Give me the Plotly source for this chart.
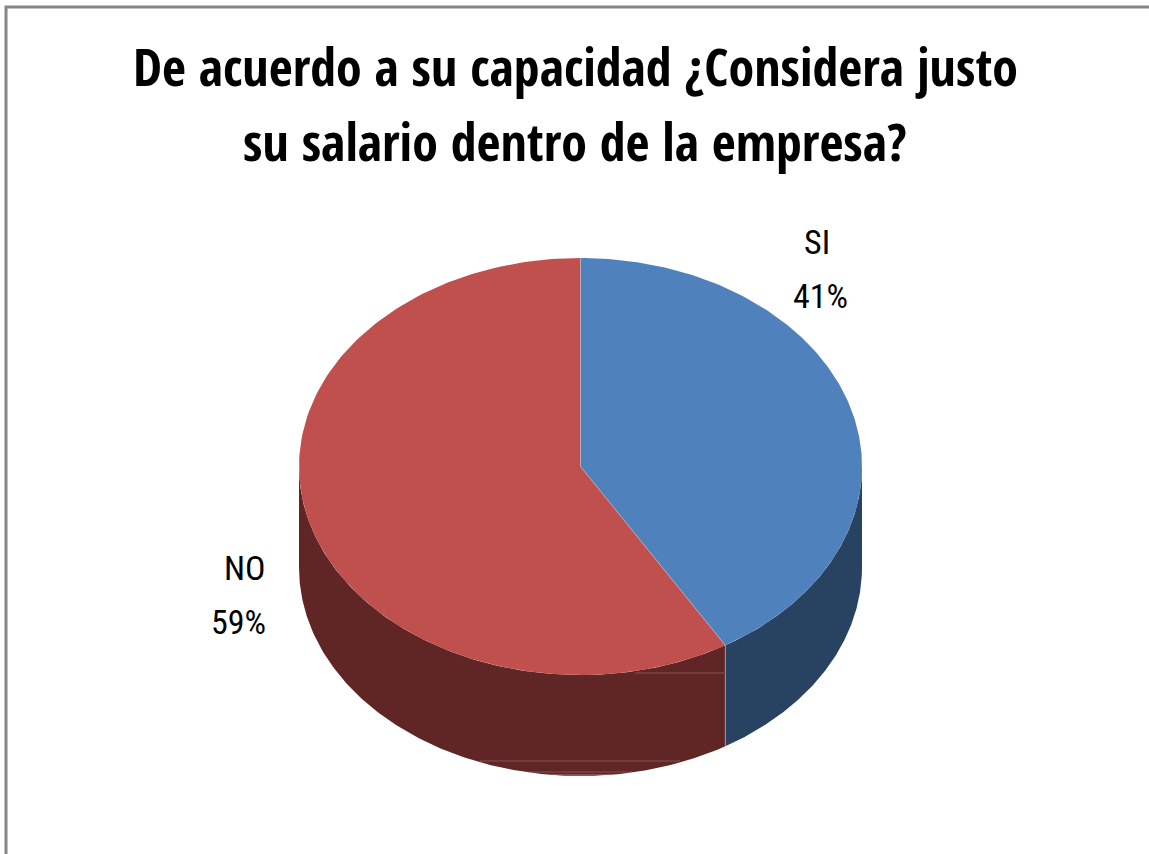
import numpy as np
import plotly.graph_objects as go

categories = ["SI", "NO"]
percentages = [41.4, 58.6]
title_lines = ["De acuerdo a su capacidad ¿Considera justo", "su salario dentro de la empresa?"]

top_colors = ["#4F81BD", "#C0504D"]
side_colors = ["#284262", "#602625"]
FONT = "Open Sans Condensed, Open Sans, sans-serif"
LABEL_FONT = "Roboto Condensed, Open Sans, sans-serif"

CX, CY, RX, RY, DEPTH = 580.5, 466.5, 281.5, 208.5, 101


def arc(start, end, dy=0):
    t = np.radians(np.linspace(start, end, 181))
    return CX + RX * np.sin(t), CY + dy - RY * np.cos(t)


fig = go.Figure()
total = sum(percentages)
edges = np.cumsum([0] + percentages) / total * 360.0

# side walls (only the front half of the ellipse, angles 90..270, is visible)
for i, name in enumerate(categories):
    a, b = max(edges[i], 90), min(edges[i + 1], 270)
    x1, y1 = arc(a, b)
    x2, y2 = arc(b, a, DEPTH)
    fig.add_trace(go.Scatter(x=np.r_[x1, x2], y=np.r_[y1, y2], fill="toself", mode="lines",
                             line=dict(width=0), fillcolor=side_colors[i], name=name + " lateral"))

# top faces
for i, name in enumerate(categories):
    x1, y1 = arc(edges[i], edges[i + 1])
    fig.add_trace(go.Scatter(x=np.r_[CX, x1], y=np.r_[CY, y1], fill="toself", mode="lines",
                             line=dict(width=0), fillcolor=top_colors[i], name=name))

# thin seams between the slices
for e in edges[:-1]:
    x1, y1 = arc(e, e)
    sx = [CX, x1[0]] + ([x1[0], x1[0]] if 90 < e < 270 else [])
    sy = [CY, y1[0]] + ([y1[0], y1[0] + DEPTH] if 90 < e < 270 else [])
    fig.add_trace(go.Scatter(x=sx, y=sy, mode="lines", line=dict(width=1, color="rgba(190,190,200,0.6)")))

label_style = dict(showarrow=False, font=dict(family=LABEL_FONT, size=34, color="#000000"), yanchor="middle")
positions = {"SI": (817, 242, 820, 296, "center"), "NO": (268, 568, 268, 622, "right")}
for name, pct in zip(categories, percentages):
    x1, y1, x2, y2, anchor = positions[name]
    fig.add_annotation(x=x1, y=y1, text=name, xanchor=anchor, **label_style)
    fig.add_annotation(x=x2, y=y2, text=f"{round(pct)}%", xanchor=anchor, **label_style)

for line, ty in zip(title_lines, [65, 140]):
    fig.add_annotation(x=575, y=ty, text="<b>" + line + "</b>", showarrow=False, xanchor="center", yanchor="middle",
                       font=dict(family=FONT, size=52, color="#000000"))

faint = dict(type="line", line=dict(color="rgba(170,120,120,0.55)", width=1))
fig.update_layout(
    width=1149, height=854, margin=dict(l=0, r=0, t=0, b=0),
    paper_bgcolor="#FFFFFF", plot_bgcolor="#FFFFFF", showlegend=False, hovermode=False,
    xaxis=dict(range=[0, 1149], visible=False, fixedrange=True),
    yaxis=dict(range=[854, 0], visible=False, fixedrange=True),
    shapes=[dict(type="path", path="M 6 854 L 6 7 L 1149 7", line=dict(color="#868686", width=3)),
            dict(x0=635, x1=724, y0=673, y1=673, **faint),
            dict(x0=480, x1=680, y0=761, y1=761, **faint),
            dict(x0=528, x1=632, y0=772, y1=772, **faint),
            dict(x0=552, x1=610, y0=774.5, y1=774.5, **faint)],
)
fig.write_html("out.html", config=dict(displayModeBar=False), post_script="document.body.style.margin='0';")
